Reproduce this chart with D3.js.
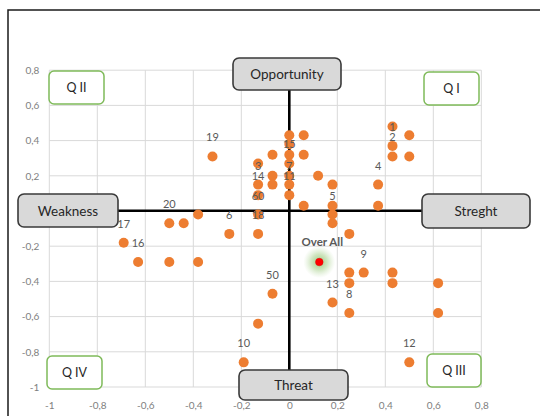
<!DOCTYPE html>
<html>
<head>
<meta charset="utf-8">
<script src="https://cdn.jsdelivr.net/npm/d3@7"></script>
<style>
  html, body { margin: 0; padding: 0; background: #fff; }
  svg { display: block; font-family: Lato, "Open Sans", sans-serif; }
</style>
</head>
<body>
<svg id="chart" width="540" height="416"></svg>
<script>
// Factor scores: strength/weakness on x, opportunity/threat on y
const pointX = [
  -0.69, -0.63, -0.50, -0.44, -0.38, -0.50, -0.38, -0.32, -0.25, -0.13,
  -0.13, -0.13, -0.13, -0.13, -0.07, -0.07, -0.07, 0.00, 0.00, 0.00,
  0.00, 0.00, 0.00, 0.00, 0.06, 0.06, 0.06, 0.12, 0.18, 0.18,
  0.18, 0.18, 0.25, 0.37, 0.37, 0.43, 0.43, 0.43, 0.50, 0.50,
  -0.07, -0.13, -0.19, 0.25, 0.31, 0.25, 0.18, 0.25, 0.43, 0.43,
  0.62, 0.62, 0.50
];
const pointY = [
  -0.18, -0.29, -0.07, -0.07, -0.02, -0.29, -0.29, 0.31, -0.13, -0.13,
  -0.02, 0.09, 0.15, 0.27, 0.32, 0.20, 0.15, 0.43, 0.38, 0.32,
  0.27, 0.20, 0.15, 0.09, 0.43, 0.32, 0.03, 0.20, 0.15, 0.03,
  -0.02, -0.07, -0.13, 0.15, 0.03, 0.48, 0.37, 0.31, 0.43, 0.31,
  -0.47, -0.64, -0.86, -0.35, -0.35, -0.41, -0.52, -0.58, -0.35, -0.41,
  -0.41, -0.58, -0.86
];
const pointLabels = [
  "17", "16", "20", "", "", "", "", "19", "6", "18",
  "60", "14", "3", "", "", "", "", "", "", "",
  "15", "", "7", "11", "", "", "", "", "", "",
  "5", "", "", "4", "", "", "1", "2", "", "",
  "50", "", "10", "", "9", "", "13", "8", "", "",
  "", "", "12"
];
const overallX = 0.125;
const overallY = -0.29;
const overallLabel = "Over All";

const xTicks = [-1, -0.8, -0.6, -0.4, -0.2, 0, 0.2, 0.4, 0.6, 0.8];
const yTicks = [-1, -0.8, -0.6, -0.4, -0.2, 0, 0.2, 0.4, 0.6, 0.8];
const axisNames = ["Opportunity", "Weakness", "Streght", "Threat"];
const quadrantNames = ["Q II", "Q I", "Q IV", "Q III"];

const svg = d3.select("#chart");
const x = d3.scaleLinear().domain([-1, 0.8]).range([49.3, 481.3]);
const y = d3.scaleLinear().domain([-1, 0.8]).range([387, 70.2]);
const fmt = v => (Math.round(v * 10) / 10).toString().replace(".", ",");

// outer chart frame
svg.append("rect").attr("x", 8).attr("y", 10).attr("width", 560).attr("height", 430)
  .attr("fill", "#fff").attr("stroke", "#1a1a1a").attr("stroke-width", 1.5);

// gridlines
const grid = svg.append("g").attr("stroke", "#d9d9d9").attr("stroke-width", 1);
grid.selectAll("line.v").data(xTicks).join("line").attr("class", "v")
  .attr("x1", d => x(d)).attr("x2", d => x(d)).attr("y1", y(0.8)).attr("y2", y(-1));
grid.selectAll("line.h").data(yTicks).join("line").attr("class", "h")
  .attr("x1", x(-1)).attr("x2", x(0.8)).attr("y1", d => y(d)).attr("y2", d => y(d));

// tick labels via d3 axes
const xAxis = svg.append("g").attr("transform", `translate(0,${y(-1) + 9})`)
  .call(d3.axisBottom(x).tickValues(xTicks).tickFormat(fmt).tickSize(0).tickPadding(6));
const yAxis = svg.append("g").attr("transform", `translate(${x(-1) - 10},0)`)
  .call(d3.axisLeft(y).tickValues(yTicks).tickFormat(fmt).tickSize(0).tickPadding(0));
[xAxis, yAxis].forEach(a => {
  a.select(".domain").remove();
  a.selectAll("text").attr("fill", "#808080").style("font-size", "10px")
    .style("font-family", "Lato, 'Open Sans', sans-serif");
});

// main cross lines
const cross = svg.append("g").attr("stroke", "#000").attr("stroke-width", 2.6);
cross.append("line").attr("x1", x(0)).attr("x2", x(0)).attr("y1", 88).attr("y2", 372);
cross.append("line").attr("x1", 116).attr("x2", 424).attr("y1", y(0) - 0.3).attr("y2", y(0) - 0.3);

// data points
svg.append("g").selectAll("circle").data(pointX).join("circle")
  .attr("cx", d => x(d)).attr("cy", (d, i) => y(pointY[i])).attr("r", 5)
  .attr("fill", "#ed7d31");

// overall point with green glow
const defs = svg.append("defs");
const glow = defs.append("radialGradient").attr("id", "glow");
glow.append("stop").attr("offset", "0%").attr("stop-color", "#8fc46a").attr("stop-opacity", 0.9);
glow.append("stop").attr("offset", "50%").attr("stop-color", "#a9d18e").attr("stop-opacity", 0.55);
glow.append("stop").attr("offset", "100%").attr("stop-color", "#c5e0b4").attr("stop-opacity", 0);
svg.append("circle").attr("cx", x(overallX)).attr("cy", y(overallY)).attr("r", 16)
  .attr("fill", "url(#glow)");
svg.append("circle").attr("cx", x(overallX)).attr("cy", y(overallY)).attr("r", 3.8)
  .attr("fill", "#ff0000").attr("stroke", "#e00000").attr("stroke-width", 0.5);
svg.append("text").attr("x", x(overallX) + 3).attr("y", y(overallY) - 16)
  .attr("text-anchor", "middle").attr("fill", "#595959")
  .style("font-size", "11.5px").style("font-weight", "bold").text(overallLabel);

// point labels, above their points
svg.append("g").selectAll("text").data(pointLabels.map((t, i) => ({ t, i })).filter(d => d.t))
  .join("text")
  .attr("x", d => x(pointX[d.i])).attr("y", d => y(pointY[d.i]) - 15)
  .attr("text-anchor", "middle").attr("fill", "#595959").style("font-size", "11px")
  .text(d => d.t);

// grey axis-name boxes
const nameBoxes = [
  { x: 233, y: 58, w: 108, h: 32 },
  { x: 18, y: 194, w: 100, h: 33 },
  { x: 422, y: 194, w: 108, h: 34 },
  { x: 239, y: 370, w: 109, h: 30 }
];
nameBoxes.forEach((b, i) => {
  svg.append("rect").attr("x", b.x).attr("y", b.y).attr("width", b.w).attr("height", b.h)
    .attr("rx", 6).attr("fill", "#d9d9d9").attr("stroke", "#3a3a3a").attr("stroke-width", 1.6);
  svg.append("text").attr("x", b.x + b.w / 2).attr("y", b.y + b.h / 2 + 5)
    .attr("text-anchor", "middle").attr("fill", "#262626").style("font-size", "13.5px")
    .text(axisNames[i]);
});

// green quadrant boxes
const quadBoxes = [
  { x: 49, y: 71, w: 55, h: 33 },
  { x: 424, y: 72, w: 55, h: 33 },
  { x: 47, y: 356, w: 55, h: 33 },
  { x: 427, y: 354, w: 54, h: 33 }
];
quadBoxes.forEach((b, i) => {
  svg.append("rect").attr("x", b.x).attr("y", b.y).attr("width", b.w).attr("height", b.h)
    .attr("rx", 5).attr("fill", "#fff").attr("stroke", "#7fba5a").attr("stroke-width", 1.5);
  svg.append("text").attr("x", b.x + b.w / 2).attr("y", b.y + b.h / 2 + 4.5)
    .attr("text-anchor", "middle").attr("fill", "#262626").style("font-size", "12.5px")
    .text(quadrantNames[i]);
});
</script>
</body>
</html>
